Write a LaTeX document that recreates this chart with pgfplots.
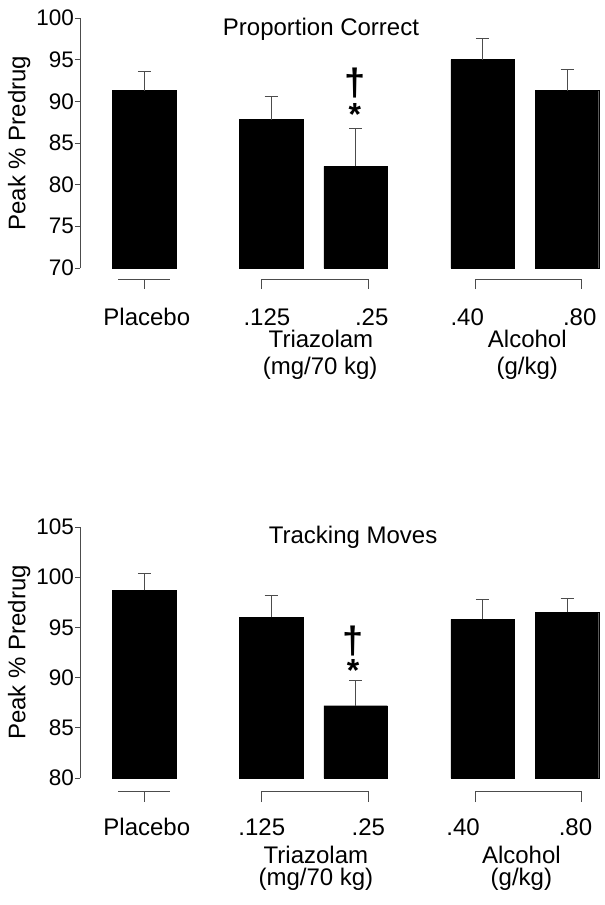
\documentclass[border=0pt]{standalone}
\usepackage{fontspec}
\setmainfont{Liberation Sans}
\usepackage{pgfplots}
\pgfplotsset{compat=1.18}
\tikzset{brk/.style={draw=black!70, line width=0.8pt}}
\begin{document}
\begin{tikzpicture}
\useasboundingbox (-80pt,-637pt) rectangle (525pt,268pt);
\pgfplotsset{
  panel/.style={
    scale only axis, width=520pt,
    xmin=-0.76, xmax=5.39,
    axis y line*=left, axis x line*=bottom,
    x axis line style={draw=none},
    y axis line style={draw=black!70, line width=0.8pt},
    ytick style={draw=black!70, line width=0.8pt},
    tick align=outside, major tick length=5pt,
    x tick style={draw=none},
    xticklabels={Placebo,.125,.25,.40,.80},
    xticklabel style={anchor=base, yshift=-52pt, font=\fontsize{24}{28}\selectfont},
    yticklabel style={font=\fontsize{22.5}{26}\selectfont, inner sep=1pt},
    /pgf/number format/assume math mode=true,
    ylabel={Peak \% Predrug},
    ylabel style={at={(axis description cs:-0.117,0.5)}, anchor=center, font=\fontsize{24}{28}\selectfont},
    clip mode=individual,
    ybar, bar width=0.75,
  },
  bars/.style={fill=black, draw=black,
    error bars/.cd, y dir=plus, y explicit,
    error bar style={black!70, line width=0.8pt},
    error mark options={rotate=90, mark size=6.5pt, black!70, line width=0.8pt}},
}
% ---------- Top panel ----------
\begin{axis}[panel, height=250pt, ymin=70, ymax=100, ytick={70,75,...,100},
  xtick={0.03,1.45,2.69,3.82,5.15}]
\addplot[bars] coordinates {
  (0,91.3) +- (0,2.3)
  (1.5,87.8) +- (0,2.8)
  (2.5,82.2) +- (0,4.6)
  (4,95.0) +- (0,2.6)
  (5,91.3) +- (0,2.5)
};
\node[anchor=base, font=\fontsize{24}{28}\selectfont] at (axis cs:2.09,97.96) {Proportion Correct};
\node[anchor=center, inner sep=0pt, font=\bfseries\fontsize{38}{38}\selectfont] at (axis cs:2.49,92.14) {\textdagger};
\node[anchor=center, inner sep=0pt, font=\bfseries\fontsize{32}{32}\selectfont] at (axis cs:2.49,88.45) {*};
\draw[brk] ([yshift=-11pt]axis cs:-0.31,70) -- ([yshift=-11pt]axis cs:0.30,70);
\draw[brk] ([yshift=-11pt]axis cs:0,70) -- ([yshift=-21pt]axis cs:0,70);
\draw[brk] ([yshift=-21pt]axis cs:1.39,70) -- ([yshift=-11pt]axis cs:1.39,70) -- ([yshift=-11pt]axis cs:2.655,70) -- ([yshift=-21pt]axis cs:2.655,70);
\draw[brk] ([yshift=-21pt]axis cs:3.915,70) -- ([yshift=-11pt]axis cs:3.915,70) -- ([yshift=-11pt]axis cs:5.175,70) -- ([yshift=-21pt]axis cs:5.175,70);
\node[anchor=base, font=\fontsize{24}{28}\selectfont] at ([yshift=-79pt]axis cs:2.09,70) {Triazolam};
\node[anchor=base, font=\fontsize{24}{28}\selectfont] at ([yshift=-106pt]axis cs:2.08,70) {(mg/70 kg)};
\node[anchor=base, font=\fontsize{24}{28}\selectfont] at ([yshift=-79pt]axis cs:4.53,70) {Alcohol};
\node[anchor=base, font=\fontsize{24}{28}\selectfont] at ([yshift=-106pt]axis cs:4.53,70) {(g/kg)};
\end{axis}
% ---------- Bottom panel ----------
\begin{axis}[panel, at={(0pt,-510pt)}, height=251pt, ymin=80, ymax=105, ytick={80,85,...,105},
  xtick={0.03,1.39,2.65,3.77,5.10}]
\addplot[bars] coordinates {
  (0,98.7) +- (0,1.7)
  (1.5,96.0) +- (0,2.2)
  (2.5,87.2) +- (0,2.5)
  (4,95.8) +- (0,2.0)
  (5,96.5) +- (0,1.4)
};
\node[anchor=base, font=\fontsize{24}{28}\selectfont] at (axis cs:2.47,103.38) {Tracking Moves};
\node[anchor=center, inner sep=0pt, font=\bfseries\fontsize{38}{38}\selectfont] at (axis cs:2.47,93.6) {\textdagger};
\node[anchor=center, inner sep=0pt, font=\bfseries\fontsize{32}{32}\selectfont] at (axis cs:2.47,90.7) {*};
\draw[brk] ([yshift=-13pt]axis cs:-0.31,80) -- ([yshift=-13pt]axis cs:0.30,80);
\draw[brk] ([yshift=-13pt]axis cs:0,80) -- ([yshift=-24pt]axis cs:0,80);
\draw[brk] ([yshift=-24pt]axis cs:1.39,80) -- ([yshift=-13pt]axis cs:1.39,80) -- ([yshift=-13pt]axis cs:2.655,80) -- ([yshift=-24pt]axis cs:2.655,80);
\draw[brk] ([yshift=-24pt]axis cs:3.915,80) -- ([yshift=-13pt]axis cs:3.915,80) -- ([yshift=-13pt]axis cs:5.175,80) -- ([yshift=-24pt]axis cs:5.175,80);
\node[anchor=base, font=\fontsize{24}{28}\selectfont] at ([yshift=-85pt]axis cs:2.03,80) {Triazolam};
\node[anchor=base, font=\fontsize{24}{28}\selectfont] at ([yshift=-107pt]axis cs:2.03,80) {(mg/70 kg)};
\node[anchor=base, font=\fontsize{24}{28}\selectfont] at ([yshift=-85pt]axis cs:4.46,80) {Alcohol};
\node[anchor=base, font=\fontsize{24}{28}\selectfont] at ([yshift=-107pt]axis cs:4.46,80) {(g/kg)};
\end{axis}
\end{tikzpicture}
\end{document}
